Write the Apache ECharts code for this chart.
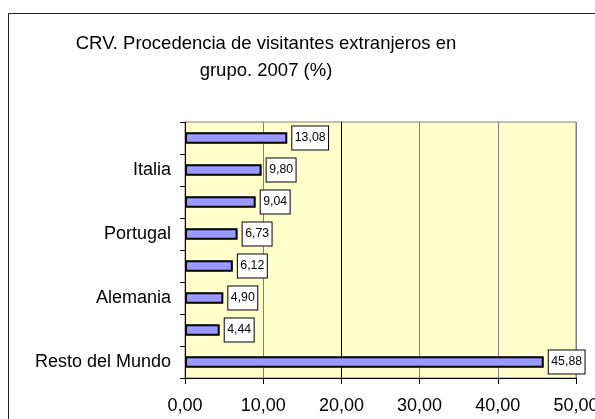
<!DOCTYPE html>
<html>
<head>
<meta charset="utf-8">
<script src="https://cdn.jsdelivr.net/npm/echarts@6/dist/echarts.min.js"></script>
<style>
  html, body { margin: 0; padding: 0; background: #fff; }
  #main { width: 595px; height: 419px; }
</style>
</head>
<body>
<div id="main"></div>
<script>
// datos (de abajo hacia arriba); solo se ven las etiquetas alternas
var paises = ['Resto del Mundo', 'Bélgica', 'Alemania', 'Países Bajos', 'Portugal', 'Reino Unido', 'Italia', 'Francia'];
var porcentajes = [45.88, 4.44, 4.90, 6.12, 6.73, 9.04, 9.80, 13.08];
var ejeX = { min: 0, max: 50, step: 10 };

var fuente = 'Arial, "Liberation Sans", sans-serif';
function coma(v) { return Number(v).toFixed(2).replace('.', ','); }

var myChart = echarts.init(document.getElementById('main'));
var option = {
  animation: false,
  backgroundColor: '#fff',
  textStyle: { fontFamily: fuente },
  title: {
    text: 'CRV. Procedencia de visitantes extranjeros en\ngrupo. 2007 (%)',
    left: 266,
    top: 30,
    padding: 0,
    textAlign: 'center',
    textStyle: { fontFamily: fuente, fontSize: 18.5, fontWeight: 'normal', color: '#000', lineHeight: 27 }
  },
  graphic: [{
    type: 'rect',
    shape: { x: 8.5, y: 13.5, width: 700, height: 500 },
    style: { fill: 'none', stroke: '#222', lineWidth: 1 },
    z: 100
  }],
  grid: {
    left: 185, right: 19, top: 122, bottom: 41,
    outerBoundsMode: 'none',
    containLabel: false,
    show: true,
    backgroundColor: '#FFFFCC',
    borderColor: '#808080',
    borderWidth: 1
  },
  xAxis: {
    type: 'value',
    min: ejeX.min, max: ejeX.max, interval: ejeX.step,
    axisLine: { show: true, lineStyle: { color: '#000', width: 1 } },
    axisTick: { show: true, length: 6, lineStyle: { color: '#000' } },
    axisLabel: { color: '#000', fontSize: 18, margin: 19, formatter: coma, hideOverlap: false },
    splitLine: { show: true, lineStyle: { color: ['#808080', '#808080', '#000', '#808080', '#808080', '#808080'], width: 1 } }
  },
  yAxis: {
    type: 'category',
    data: paises,
    axisLine: { show: true, lineStyle: { color: '#000', width: 1 } },
    axisTick: { show: true, interval: 0, length: 5, lineStyle: { color: '#000' } },
    axisLabel: { interval: 1, color: '#000', fontSize: 18, margin: 14 },
    splitLine: { show: false }
  },
  series: [{
    type: 'bar',
    data: porcentajes,
    barWidth: 11.5,
    itemStyle: { color: '#9999FF', borderColor: '#000', borderWidth: 2 },
    label: {
      show: true,
      position: 'right',
      distance: 5,
      formatter: function (p) { return coma(p.value); },
      color: '#000',
      fontSize: 12.3,
      lineHeight: 15,
      backgroundColor: '#fff',
      borderColor: '#000',
      borderWidth: 1,
      padding: [4, 2.5, 4, 2.5]
    }
  }]
};
myChart.setOption(option);
</script>
</body>
</html>
